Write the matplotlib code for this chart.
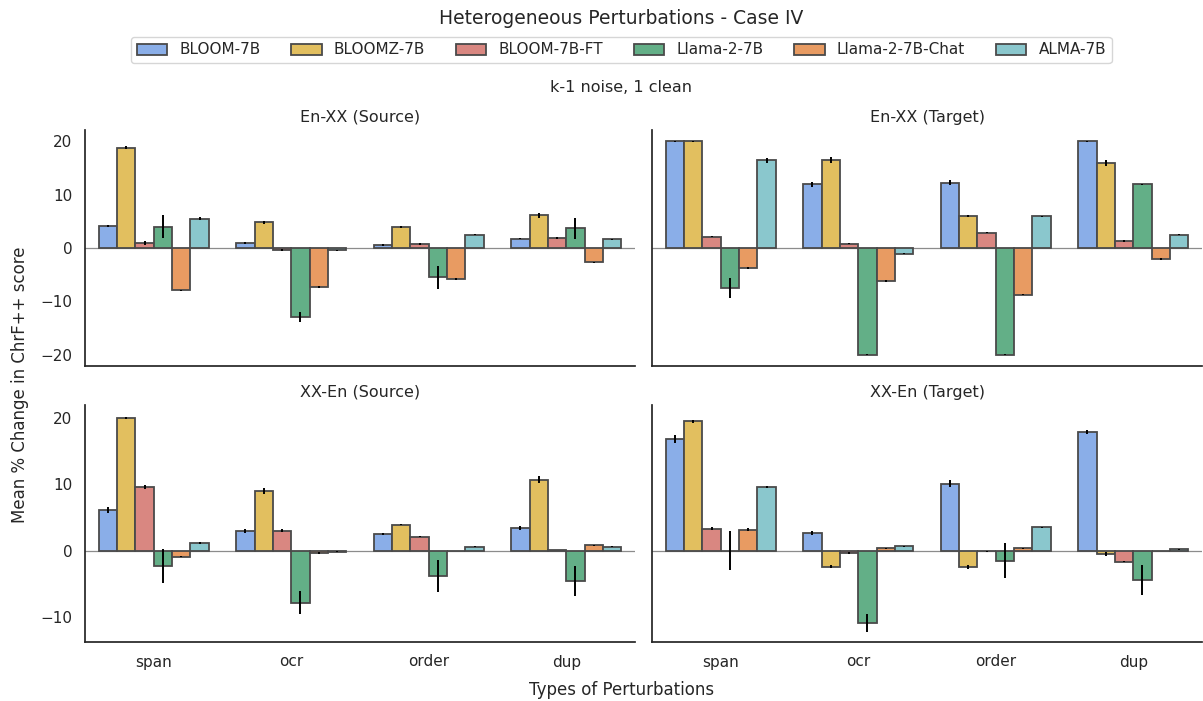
import numpy as np
import matplotlib
matplotlib.use("Agg")
import matplotlib.pyplot as plt

# models (hue) and perturbation types (x)
models = ["BLOOM-7B", "BLOOMZ-7B", "BLOOM-7B-FT", "Llama-2-7B", "Llama-2-7B-Chat", "ALMA-7B"]
perturbations = ["span", "ocr", "order", "dup"]
colors = ["#8aaee8", "#e2bf5f", "#d98781", "#63af87", "#e89b62", "#8ac7cd"]

# mean % change, one row per model, columns = span, ocr, order, dup
enxx_src = [[4.05, 0.95, 0.5, 1.75],
            [18.8, 4.8, 4.0, 6.1],
            [0.95, -0.3, 0.75, 1.8],
            [4.0, -12.9, -5.5, 3.7],
            [-7.9, -7.3, -5.8, -2.7],
            [5.5, -0.4, 2.45, 1.6]]
enxx_src_err = [[0.2, 0.2, 0.2, 0.1],
                [0.3, 0.3, 0.2, 0.4],
                [0.3, 0.2, 0.2, 0.2],
                [2.1, 1.0, 2.1, 2.0],
                [0.1, 0.1, 0.1, 0.1],
                [0.3, 0.1, 0.1, 0.1]]

enxx_tgt = [[20, 11.9, 12.25, 20],
            [20, 16.5, 6.0, 15.9],
            [2.1, 0.8, 2.9, 1.25],
            [-7.5, -20, -20, 11.9],
            [-3.7, -6.1, -8.75, -2.05],
            [16.4, -1.1, 5.9, 2.45]]
enxx_tgt_err = [[0.1, 0.5, 0.4, 0.1],
                [0.1, 0.5, 0.2, 0.6],
                [0.1, 0.1, 0.1, 0.2],
                [1.8, 0.1, 0.1, 0.1],
                [0.2, 0.2, 0.1, 0.2],
                [0.4, 0.1, 0.1, 0.1]]

xxen_src = [[6.15, 2.9, 2.5, 3.4],
            [20, 9.0, 3.9, 10.7],
            [9.6, 3.0, 2.1, 0.1],
            [-2.3, -7.8, -3.75, -4.6],
            [-0.9, -0.35, -0.05, 0.8],
            [1.15, -0.15, 0.6, 0.6]]
xxen_src_err = [[0.4, 0.3, 0.1, 0.3],
                [0.1, 0.5, 0.1, 0.5],
                [0.3, 0.2, 0.1, 0.05],
                [2.6, 1.8, 2.4, 2.25],
                [0.1, 0.1, 0.05, 0.1],
                [0.2, 0.05, 0.05, 0.05]]

xxen_tgt = [[16.9, 2.7, 10.1, 17.85],
            [19.5, -2.4, -2.4, -0.5],
            [3.3, -0.35, -0.1, -1.65],
            [0.0, -10.9, -1.5, -4.4],
            [3.15, 0.35, 0.35, -0.05],
            [9.6, 0.65, 3.5, 0.2]]
xxen_tgt_err = [[0.6, 0.3, 0.5, 0.3],
                [0.2, 0.2, 0.3, 0.3],
                [0.2, 0.1, 0.05, 0.1],
                [2.9, 1.35, 2.6, 2.2],
                [0.2, 0.1, 0.05, 0.05],
                [0.1, 0.1, 0.1, 0.05]]

panels = [("En-XX (Source)", enxx_src, enxx_src_err),
          ("En-XX (Target)", enxx_tgt, enxx_tgt_err),
          ("XX-En (Source)", xxen_src, xxen_src_err),
          ("XX-En (Target)", xxen_tgt, xxen_tgt_err)]

plt.rcParams["font.family"] = "DejaVu Sans"
plt.rcParams["text.color"] = "0.15"
plt.rcParams["axes.labelcolor"] = "0.15"
plt.rcParams["xtick.color"] = "0.15"
plt.rcParams["ytick.color"] = "0.15"

fig = plt.figure(figsize=(12.03, 7.01), dpi=100)
W, H = 1203, 701

def box(x0, x1, y0, y1):
    return [x0 / W, 1 - y1 / H, (x1 - x0) / W, (y1 - y0) / H]

ax_tl = fig.add_axes(box(85, 635, 130, 366))
ax_tr = fig.add_axes(box(652, 1202, 130, 366), sharey=ax_tl)
ax_bl = fig.add_axes(box(85, 635, 405, 642))
ax_br = fig.add_axes(box(652, 1202, 405, 642), sharey=ax_bl)
axes = [ax_tl, ax_tr, ax_bl, ax_br]

x = np.arange(len(perturbations))
width = 0.8 / len(models)

for ax, (title, vals, errs) in zip(axes, panels):
    for j, m in enumerate(models):
        ax.bar(x - 0.4 + width * (j + 0.5), vals[j], width, yerr=errs[j],
               color=colors[j], edgecolor="#4a4a4a", linewidth=1.3, label=m,
               error_kw=dict(ecolor="black", elinewidth=1.4, capsize=0), zorder=2)
    ax.axhline(0, color="0.55", lw=0.9, zorder=1)
    ax.set_title(title, fontsize=11.5, pad=6)
    ax.set_xlim(-0.5, 3.5)
    ax.set_xticks(x)
    for s in ["top", "right"]:
        ax.spines[s].set_visible(False)
    for s in ["left", "bottom"]:
        ax.spines[s].set_color("0.15")
        ax.spines[s].set_linewidth(1.25)
    ax.tick_params(length=0, labelsize=11, pad=9)

ax_tl.set_ylim(-22.1, 22.1)
ax_tl.set_yticks([-20, -10, 0, 10, 20])
ax_bl.set_ylim(-13.75, 21.95)
ax_bl.set_yticks([-10, 0, 10, 20])
for ax in [ax_tl, ax_tr]:
    ax.set_xticklabels([])
for ax in [ax_bl, ax_br]:
    ax.set_xticklabels(perturbations)
for ax in [ax_tr, ax_br]:
    ax.tick_params(labelleft=False)

fig.text(0.5165, 1 - 18 / H, "Heterogeneous Perturbations - Case IV", ha="center", va="center", fontsize=13.5)
handles, labels = ax_tl.get_legend_handles_labels()
fig.legend(handles, labels, loc="center", bbox_to_anchor=(0.5165, 1 - 50 / H), ncol=6,
           fontsize=11, frameon=True, edgecolor="0.8", handlelength=2.0, columnspacing=2.0,
           borderpad=0.35)
fig.text(0.5165, 1 - 88 / H, "k-1 noise, 1 clean", ha="center", va="center", fontsize=11.5)
fig.text(0.5165, 1 - 690 / H, "Types of Perturbations", ha="center", va="center", fontsize=12)
fig.text(20 / W, 1 - 385 / H, "Mean % Change in ChrF++ score", ha="center", va="center",
         rotation=90, fontsize=12)

fig.savefig("out.png", dpi=100)
